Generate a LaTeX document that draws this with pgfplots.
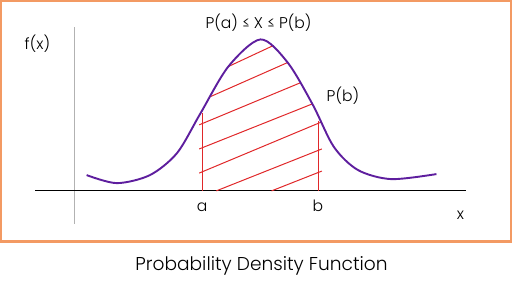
\documentclass[border=0pt]{standalone}
\usepackage{pgfplots}
\pgfplotsset{compat=1.18}
\usepackage{fontspec}
\setmainfont{Poppins}[UprightFont=* Light]
\definecolor{frameorange}{HTML}{F39A63}
\definecolor{curvepurple}{HTML}{5E1E9E}
\definecolor{hatchred}{HTML}{E0282A}
\begin{document}
\begin{tikzpicture}
\begin{axis}[
  scale only axis, width=512pt, height=288pt,
  xmin=0, xmax=512, ymin=0, ymax=288, y dir=reverse,
  hide axis, clip=false,
]
% frame
\draw[frameorange, line width=2.4pt] (axis cs:2,2) rectangle (axis cs:509,241);
% axes lines
\draw[gray!60, line width=1.1pt] (axis cs:75,28) -- (axis cs:75,224);
\draw[black, line width=1.1pt] (axis cs:36,190.7) -- (axis cs:464,190.7);
% hatch
\addplot[hatchred, line width=1.1pt] coordinates {(202,190.7) (202,113)};
\addplot[hatchred, line width=1.1pt] coordinates {(318,190.7) (318,121)};
\addplot[hatchred, line width=1pt] coordinates {(228,67) (273,46)};
\addplot[hatchred, line width=1pt] coordinates {(210,97) (287,63)};
\addplot[hatchred, line width=1pt] coordinates {(199,125) (300,83)};
\addplot[hatchred, line width=1pt] coordinates {(199,149) (312,104)};
\addplot[hatchred, line width=1pt] coordinates {(199,173) (321,122)};
\addplot[hatchred, line width=1pt] coordinates {(216,190.7) (321,149)};
\addplot[hatchred, line width=1pt] coordinates {(271,190.7) (321,171)};
% curve
\addplot[curvepurple, line width=1.9pt, smooth] coordinates {
(87,175) (117,183) (150,175) (177,153) (200,114) (228,67) (260,40)
(287,63) (312,105) (333,147) (357,170) (390,179) (435,174)};
% texts
\fontsize{15.5}{18}\selectfont
\node[anchor=base] at (axis cs:38,50) {f(x)};
\node[anchor=base] at (axis cs:258,29) {P(a) ≤ X ≤ P(b)};
\node[anchor=base] at (axis cs:342,102) {P(b)};
\node[anchor=base] at (axis cs:202,211) {a};
\node[anchor=base] at (axis cs:317,211) {b};
\node[anchor=base] at (axis cs:459,219) {x};
\node[anchor=base] at (axis cs:261,270) {\fontsize{18.5}{22}\selectfont Probability Density Function};
\end{axis}
\end{tikzpicture}
\end{document}
